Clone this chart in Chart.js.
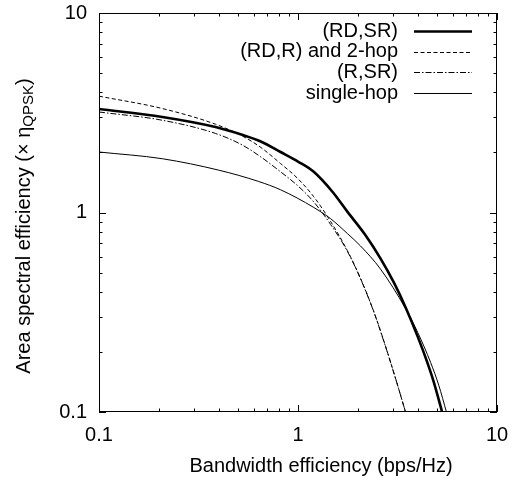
<!DOCTYPE html>
<html>
<head>
<meta charset="utf-8">
<script src="https://cdn.jsdelivr.net/npm/chart.js@4"></script>
<style>
  html, body { margin: 0; padding: 0; background: #fff; }
</style>
</head>
<body>
<canvas id="chart" width="517" height="481"></canvas>
<script>
// values (log-log)
const xRDSR = [0.1, 0.208, 0.385, 0.524, 0.65, 0.817, 1.0, 1.2, 1.5, 1.77, 2.18, 2.6, 3.03, 3.47, 4.0, 4.45, 4.8, 5.3];
const yRDSR = [3.3, 3.01, 2.68, 2.45, 2.27, 2.01, 1.8, 1.6, 1.26, 1.01, 0.771, 0.587, 0.446, 0.335, 0.238, 0.179, 0.1425, 0.1];

const xRDR = [0.1, 0.208, 0.385, 0.524, 0.65, 0.817, 0.99, 1.2, 1.46, 1.77, 2.06, 2.4, 2.7, 3.1, 3.47];
const yRDR = [3.83, 3.32, 2.77, 2.42, 2.12, 1.76, 1.49, 1.2, 0.9, 0.644, 0.468, 0.32, 0.227, 0.146, 0.1];

const xRSR = [0.1, 0.208, 0.385, 0.524, 0.65, 0.817, 0.99, 1.2, 1.46, 1.77, 2.06, 2.4, 2.7, 3.1, 3.47];
const yRSR = [3.19, 2.9, 2.49, 2.18, 1.9, 1.6, 1.37, 1.13, 0.87, 0.64, 0.466, 0.319, 0.226, 0.146, 0.1];

const xSingle = [0.1, 0.208, 0.4, 0.635, 0.817, 1.2, 1.46, 1.77, 2.06, 2.6, 3.47, 4.0, 4.64, 5.1, 5.57];
const ySingle = [2.01, 1.86, 1.63, 1.43, 1.3, 1.06, 0.93, 0.785, 0.68, 0.52, 0.33, 0.25, 0.177, 0.136, 0.1];

const seriesLabels = ['(RD,SR)', '(RD,R) and 2-hop', '(R,SR)', 'single-hop'];
const xTicks = [0.1, 1, 10];
const yTicks = [0.1, 1, 10];

const FONT = "'Liberation Sans', Arial, Helvetica, sans-serif";

const pts = (xs, ys) => xs.map((x, i) => ({ x: x, y: ys[i] }));

const styles = [
  { borderWidth: 2.6, borderDash: [] },
  { borderWidth: 1, borderDash: [4, 2.5] },
  { borderWidth: 1, borderDash: [6, 2, 1.5, 2] },
  { borderWidth: 1, borderDash: [] },
];
const seriesData = [pts(xRDSR, yRDSR), pts(xRDR, yRDR), pts(xRSR, yRSR), pts(xSingle, ySingle)];

// wanted plot box (pixels)
const AREA = { left: 99, top: 13, right: 497, bottom: 412 };

// minor ticks for a log axis between 0.1 and 10
function logTickValues() {
  const out = [];
  for (const d of [0.1, 1]) {
    for (let k = 1; k <= 10; k++) out.push({ v: d * k, major: k === 1 || k === 10 });
  }
  return out;
}

const decorations = {
  id: 'decorations',
  afterDraw(chart) {
    const { ctx, chartArea: a, scales } = chart;
    ctx.save();
    ctx.strokeStyle = '#000';
    ctx.lineWidth = 1;

    // frame
    ctx.strokeRect(a.left + 0.5, a.top + 0.5, a.right - a.left - 1, a.bottom - a.top - 1);

    // inward ticks on all four sides
    ctx.beginPath();
    for (const t of logTickValues()) {
      const len = t.major ? 7 : 3.5;
      const px = Math.round(scales.x.getPixelForValue(t.v)) + 0.5;
      ctx.moveTo(px, a.bottom); ctx.lineTo(px, a.bottom - len);
      ctx.moveTo(px, a.top); ctx.lineTo(px, a.top + len);
      const py = Math.round(scales.y.getPixelForValue(t.v)) + 0.5;
      ctx.moveTo(a.left, py); ctx.lineTo(a.left + len, py);
      ctx.moveTo(a.right, py); ctx.lineTo(a.right - len, py);
    }
    ctx.stroke();

    // legend: text right-aligned, sample line on the right
    ctx.fillStyle = '#000';
    ctx.font = '20px ' + FONT;
    ctx.textAlign = 'right';
    ctx.textBaseline = 'middle';
    chart.data.datasets.forEach((ds, i) => {
      const y = 31 + i * 20.7;
      ctx.fillText(ds.label, 398, y);
      ctx.save();
      ctx.lineWidth = ds.borderWidth;
      ctx.setLineDash(ds.borderDash || []);
      ctx.beginPath();
      ctx.moveTo(414, Math.round(y) + 0.5);
      ctx.lineTo(472, Math.round(y) + 0.5);
      ctx.stroke();
      ctx.restore();
    });

    // x axis title
    ctx.textAlign = 'center';
    ctx.fillText('Bandwidth efficiency (bps/Hz)', 321, 466);

    // y axis title with subscript
    ctx.save();
    ctx.translate(24, 226);
    ctx.rotate(-Math.PI / 2);
    ctx.textAlign = 'left';
    const main = 'Area spectral efficiency (\u00d7 \u03b7';
    const sub = 'QPSK';
    const tail = ')';
    ctx.font = '20px ' + FONT;
    const wMain = ctx.measureText(main).width;
    const wTail = ctx.measureText(tail).width;
    ctx.font = '15px ' + FONT;
    const wSub = ctx.measureText(sub).width;
    let x0 = -(wMain + wSub + wTail) / 2;
    ctx.font = '20px ' + FONT;
    ctx.fillText(main, x0, 0);
    x0 += wMain;
    ctx.font = '15px ' + FONT;
    ctx.fillText(sub, x0, 5);
    x0 += wSub;
    ctx.font = '20px ' + FONT;
    ctx.fillText(tail, x0, 0);
    ctx.restore();

    ctx.restore();
  }
};

const tickFont = { family: FONT, size: 20 };

new Chart(document.getElementById('chart'), {
  type: 'line',
  data: {
    datasets: seriesLabels.map((label, i) => ({
      label: label,
      data: seriesData[i],
      borderColor: '#000',
      backgroundColor: '#000',
      borderWidth: styles[i].borderWidth,
      borderDash: styles[i].borderDash,
      pointRadius: 0,
      fill: false,
      cubicInterpolationMode: 'monotone',
    })),
  },
  options: {
    responsive: false,
    animation: false,
    layout: { padding: { top: AREA.top, right: 517 - AREA.right, left: 0, bottom: 0 } },
    plugins: {
      legend: { display: false },
      tooltip: { enabled: false },
    },
    scales: {
      x: {
        type: 'logarithmic',
        min: 0.1,
        max: 10,
        afterBuildTicks: (s) => { s.ticks = xTicks.map((v) => ({ value: v })); },
        afterFit: (s) => {
          s.height = 481 - AREA.bottom;
          s.paddingLeft = 0;
          s.paddingRight = 0;
        },
        ticks: { color: '#000', font: tickFont, padding: 11, maxRotation: 0, callback: (v) => String(v) },
        grid: { display: false, drawTicks: false },
        border: { display: false },
      },
      y: {
        type: 'logarithmic',
        min: 0.1,
        max: 10,
        afterBuildTicks: (s) => { s.ticks = yTicks.map((v) => ({ value: v })); },
        afterFit: (s) => {
          s.width = AREA.left;
          s.paddingTop = 0;
          s.paddingBottom = 0;
        },
        ticks: { color: '#000', font: tickFont, padding: 12, callback: (v) => String(v) },
        grid: { display: false, drawTicks: false },
        border: { display: false },
      },
    },
  },
  plugins: [decorations],
});
</script>
</body>
</html>
